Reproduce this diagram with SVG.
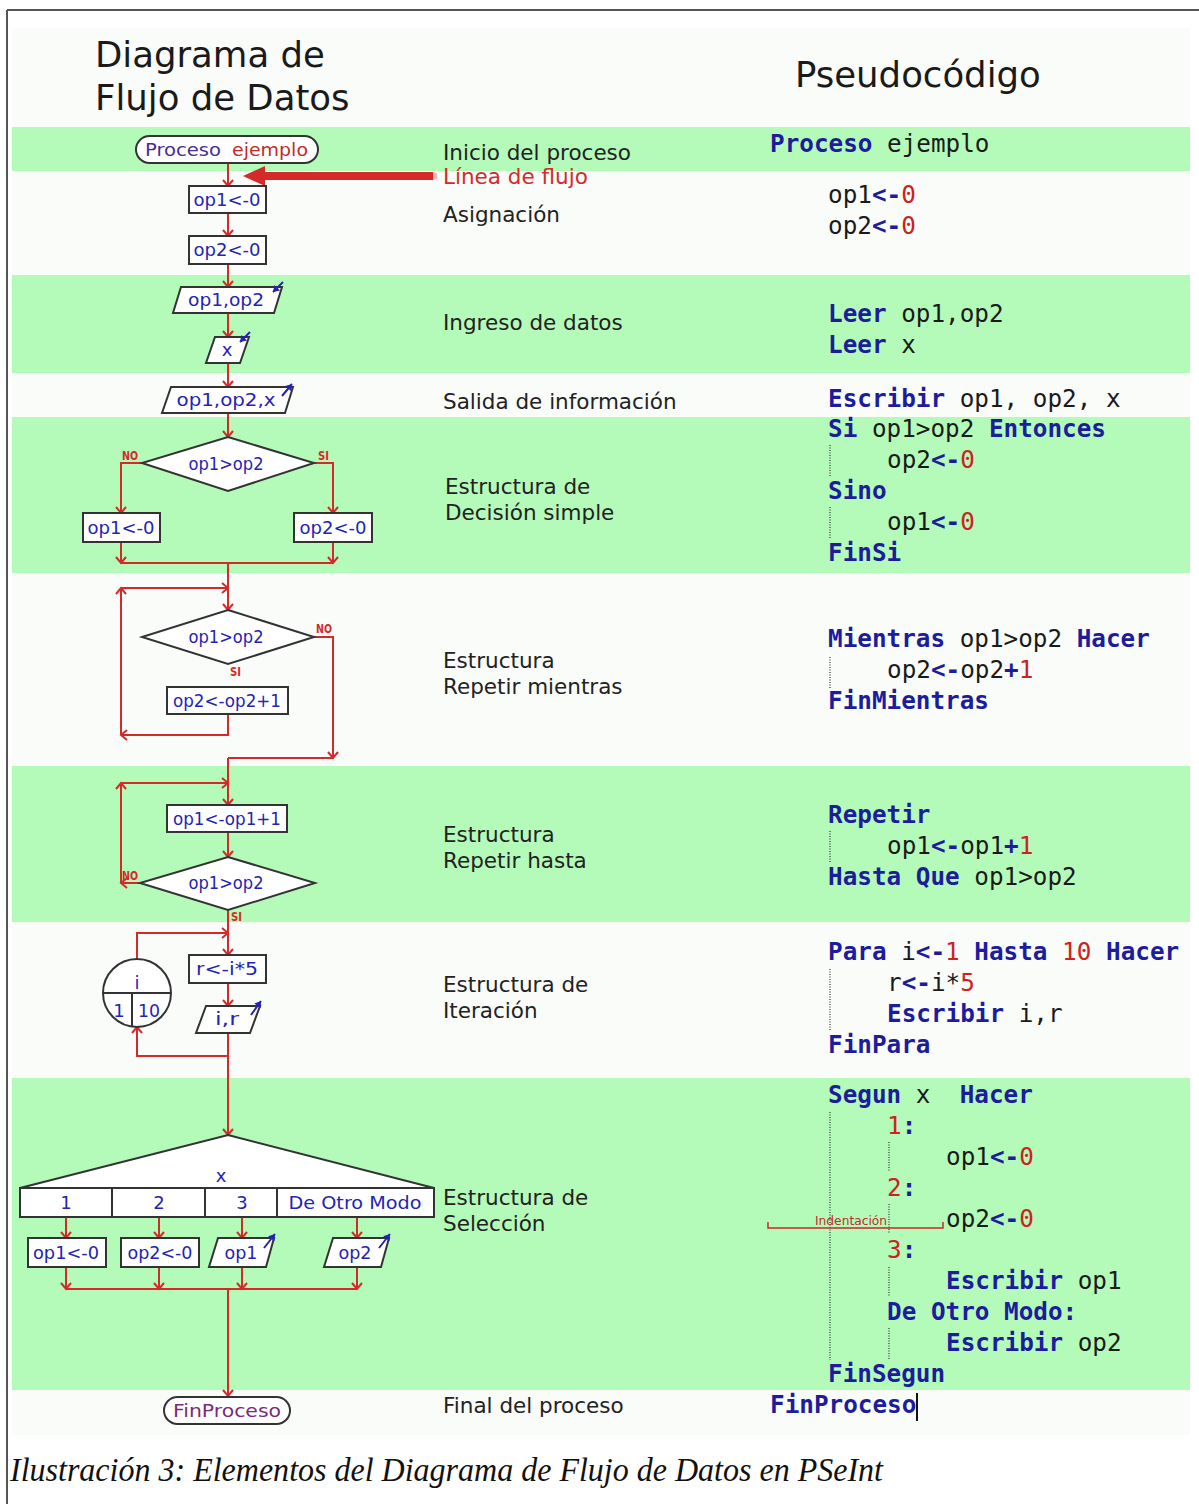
<svg xmlns="http://www.w3.org/2000/svg" width="1199" height="1504" viewBox="0 0 1199 1504">
  <style>
    .band { fill: #b4fab9; }
    .lbl { font-family: "DejaVu Sans", sans-serif; font-size: 21.5px; fill: #222; }
    .hdr { font-family: "DejaVu Sans", sans-serif; font-size: 35.5px; fill: #1a1a1a; }
    .node { fill: #fff; stroke: #333; stroke-width: 2; }
    .ft { font-family: "DejaVu Sans", sans-serif; font-size: 18px; fill: #2424b4; text-anchor: middle; }
    .tag { font-family: "DejaVu Sans Condensed", "DejaVu Sans", sans-serif; font-size: 12px; font-weight: bold; fill: #d42a2a; }
    .con { fill: none; stroke: #d42a2a; stroke-width: 2; }
    .arr { marker-end: url(#ah); }
    .io { fill: none; stroke: #2424b4; stroke-width: 2; marker-end: url(#bh); }
    .code { font-family: "DejaVu Sans Mono", monospace; font-size: 24.3px; fill: #1a1a1a; white-space: pre; }
    .kw { font-weight: bold; fill: #1c1c9c; }
    .num { fill: #cc2222; }
    .guide { stroke: #333; stroke-width: 1.2; stroke-dasharray: 1 1.5; fill: none; }
  </style>
  <defs>
    <marker id="ah" markerUnits="userSpaceOnUse" orient="auto" overflow="visible" markerWidth="12" markerHeight="12">
      <path d="M-6,-5 L0,0 L-6,5" fill="none" stroke="#d42a2a" stroke-width="2"/>
    </marker>
    <marker id="bh" markerUnits="userSpaceOnUse" orient="auto" overflow="visible" markerWidth="10" markerHeight="10">
      <path d="M-6,-4 L0,0 L-6,4 Z" fill="#2424b4"/>
    </marker>
  </defs>

  <!-- page frame -->
  <rect x="0" y="0" width="1199" height="1504" fill="#fff"/>
  <path d="M7,10 H1199 M7,10 V1504" fill="none" stroke="#555" stroke-width="2"/>

  <!-- table background and green rows -->
  <rect x="12" y="28" width="1178" height="1407" fill="#fafcfa"/>
  <rect class="band" x="12" y="127" width="1178" height="44"/>
  <rect class="band" x="12" y="275" width="1178" height="98"/>
  <rect class="band" x="12" y="417" width="1178" height="156"/>
  <rect class="band" x="12" y="766" width="1178" height="156"/>
  <rect class="band" x="12" y="1078" width="1178" height="312"/>

  <!-- column headings -->
  <text class="hdr" x="95" y="67">Diagrama de</text>
  <text class="hdr" x="95" y="110">Flujo de Datos</text>
  <text class="hdr" x="795" y="87">Pseudocódigo</text>

  <!-- connectors -->
  <g id="connectors">
    <path class="con arr" d="M228,163 V186"/>
    <path class="con arr" d="M228,213 V236"/>
    <path class="con arr" d="M228,264 V287"/>
    <path class="con arr" d="M228,313 V337"/>
    <path class="con arr" d="M228,363 V387"/>
    <path class="con arr" d="M228,413 V437"/>
    <!-- if / else -->
    <path class="con arr" d="M142,463 H121 V513"/>
    <path class="con arr" d="M314,463 H333 V513"/>
    <path class="con arr" d="M121,542 V563"/>
    <path class="con arr" d="M333,542 V563"/>
    <path class="con" d="M121,563 H333"/>
    <path class="con arr" d="M228,563 V610"/>
    <!-- while loop -->
    <path class="con arr" d="M228,714 V735 H121"/>
    <path class="con arr" d="M121,735 V588"/>
    <path class="con arr" d="M121,588 H228"/>
    <path class="con arr" d="M314,637 H333 V758"/>
    <path class="con" d="M333,758 H228"/>
    <path class="con arr" d="M228,758 V805"/>
    <!-- repeat loop -->
    <path class="con arr" d="M121,783 H228"/>
    <path class="con arr" d="M228,832 V857"/>
    <path class="con arr" d="M140,883 H121"/>
    <path class="con arr" d="M121,883 V783"/>
    <!-- for loop -->
    <path class="con arr" d="M228,910 V955"/>
    <path class="con arr" d="M137,959 V933 H228"/>
    <path class="con arr" d="M228,983 V1006"/>
    <path class="con arr" d="M228,1056 H137 V1027"/>
    <path class="con arr" d="M228,1033 V1135"/>
    <!-- switch -->
    <path class="con arr" d="M66,1217 V1238"/>
    <path class="con arr" d="M159,1217 V1238"/>
    <path class="con arr" d="M242,1217 V1238"/>
    <path class="con arr" d="M357,1217 V1238"/>
    <path class="con arr" d="M66,1267 V1289"/>
    <path class="con arr" d="M159,1267 V1289"/>
    <path class="con arr" d="M242,1267 V1289"/>
    <path class="con arr" d="M357,1267 V1289"/>
    <path class="con" d="M66,1289 H357"/>
    <path class="con arr" d="M228,1289 V1396"/>
    <!-- flow line callout -->
    <rect x="262" y="172" width="171" height="8" fill="#d42a2a"/>
    <path d="M243,176 L265,166 L265,186 Z" fill="#d42a2a"/>
    <path d="M434,172 V180 M436,173 V179" stroke="#e07070" stroke-width="1"/>
  </g>

  <!-- flowchart nodes -->
  <g id="n-start">
    <rect class="node" x="136" y="136" width="182" height="27" rx="13.5"/>
    <text x="183" y="156" class="ft" style="fill:#4a2c96" textLength="76" lengthAdjust="spacingAndGlyphs">Proceso</text>
    <text x="270" y="156" class="ft" style="fill:#c42a2a" textLength="76" lengthAdjust="spacingAndGlyphs">ejemplo</text>
  </g>
  <g id="n-asig1">
    <rect class="node" x="189" y="186" width="77" height="27"/>
    <text class="ft" x="227" y="206" textLength="67" lengthAdjust="spacingAndGlyphs">op1&lt;-0</text>
  </g>
  <g id="n-asig2">
    <rect class="node" x="189" y="236" width="77" height="28"/>
    <text class="ft" x="227" y="256" textLength="67" lengthAdjust="spacingAndGlyphs">op2&lt;-0</text>
  </g>
  <g id="n-leer1">
    <polygon class="node" points="181,287 282,287 274,313 173,313"/>
    <text class="ft" x="226" y="306" textLength="76" lengthAdjust="spacingAndGlyphs">op1,op2</text>
    <path class="io" d="M283,282 L273,292"/>
  </g>
  <g id="n-leer2">
    <polygon class="node" points="215,337 249,337 240,363 206,363"/>
    <text class="ft" x="227" y="356">x</text>
    <path class="io" d="M250,332 L240,342"/>
  </g>
  <g id="n-escribir">
    <polygon class="node" points="171,387 293,387 285,413 162,413"/>
    <text class="ft" x="226" y="406" textLength="99" lengthAdjust="spacingAndGlyphs">op1,op2,x</text>
    <path class="io" d="M282,396 L292,384"/>
  </g>
  <g id="n-si">
    <polygon class="node" points="228,437 314,463 228,491 142,463"/>
    <text class="ft" x="226" y="470" textLength="75" lengthAdjust="spacingAndGlyphs">op1&gt;op2</text>
    <text class="tag" x="122" y="460" textLength="16" lengthAdjust="spacingAndGlyphs">NO</text>
    <text class="tag" x="318" y="460" textLength="11" lengthAdjust="spacingAndGlyphs">SI</text>
  </g>
  <g id="n-sino">
    <rect class="node" x="83" y="513" width="77" height="29"/>
    <text class="ft" x="121" y="534" textLength="67" lengthAdjust="spacingAndGlyphs">op1&lt;-0</text>
  </g>
  <g id="n-entonces">
    <rect class="node" x="294" y="513" width="78" height="29"/>
    <text class="ft" x="333" y="534" textLength="67" lengthAdjust="spacingAndGlyphs">op2&lt;-0</text>
  </g>
  <g id="n-mientras">
    <polygon class="node" points="228,610 314,637 228,664 142,637"/>
    <text class="ft" x="226" y="643" textLength="75" lengthAdjust="spacingAndGlyphs">op1&gt;op2</text>
    <text class="tag" x="316" y="633" textLength="16" lengthAdjust="spacingAndGlyphs">NO</text>
    <text class="tag" x="230" y="676" textLength="11" lengthAdjust="spacingAndGlyphs">SI</text>
  </g>
  <g id="n-mientras-cuerpo">
    <rect class="node" x="167" y="687" width="121" height="27"/>
    <text class="ft" x="227" y="707" textLength="108" lengthAdjust="spacingAndGlyphs">op2&lt;-op2+1</text>
  </g>
  <g id="n-repetir-cuerpo">
    <rect class="node" x="167" y="805" width="120" height="27"/>
    <text class="ft" x="227" y="825" textLength="108" lengthAdjust="spacingAndGlyphs">op1&lt;-op1+1</text>
  </g>
  <g id="n-hasta">
    <polygon class="node" points="228,857 315,883 228,910 140,883"/>
    <text class="ft" x="226" y="889" textLength="75" lengthAdjust="spacingAndGlyphs">op1&gt;op2</text>
    <text class="tag" x="122" y="880" textLength="16" lengthAdjust="spacingAndGlyphs">NO</text>
    <text class="tag" x="231" y="921" textLength="11" lengthAdjust="spacingAndGlyphs">SI</text>
  </g>
  <g id="n-para">
    <circle class="node" cx="137" cy="993" r="34"/>
    <path d="M103,993 H171 M132,993 V1026" stroke="#333" stroke-width="2" fill="none"/>
    <text class="ft" x="137" y="989">i</text>
    <text class="ft" x="119" y="1017">1</text>
    <text class="ft" x="149" y="1017" textLength="22" lengthAdjust="spacingAndGlyphs">10</text>
  </g>
  <g id="n-para-asig">
    <rect class="node" x="189" y="955" width="77" height="28"/>
    <text class="ft" x="227" y="975" textLength="62" lengthAdjust="spacingAndGlyphs">r&lt;-i*5</text>
  </g>
  <g id="n-para-escribir">
    <polygon class="node" points="206,1006 260,1006 250,1033 196,1033"/>
    <text class="ft" x="227" y="1025" textLength="24" lengthAdjust="spacingAndGlyphs">i,r</text>
    <path class="io" d="M251,1015 L261,1001"/>
  </g>
  <g id="n-segun">
    <polygon class="node" points="228,1135 434,1188 20,1188"/>
    <text class="ft" x="221" y="1182">x</text>
    <rect class="node" x="20" y="1188" width="414" height="29"/>
    <path d="M112,1188 V1217 M205,1188 V1217 M277,1188 V1217" stroke="#333" stroke-width="2"/>
    <text class="ft" x="66" y="1209">1</text>
    <text class="ft" x="159" y="1209">2</text>
    <text class="ft" x="242" y="1209">3</text>
    <text class="ft" x="355" y="1209" textLength="133" lengthAdjust="spacingAndGlyphs">De Otro Modo</text>
  </g>
  <g id="n-caso1">
    <rect class="node" x="28" y="1238" width="78" height="29"/>
    <text class="ft" x="66" y="1259" textLength="66" lengthAdjust="spacingAndGlyphs">op1&lt;-0</text>
  </g>
  <g id="n-caso2">
    <rect class="node" x="121" y="1238" width="78" height="29"/>
    <text class="ft" x="160" y="1259" textLength="65" lengthAdjust="spacingAndGlyphs">op2&lt;-0</text>
  </g>
  <g id="n-caso3">
    <polygon class="node" points="218,1238 274,1238 266,1267 209,1267"/>
    <text class="ft" x="241" y="1259" textLength="33" lengthAdjust="spacingAndGlyphs">op1</text>
    <path class="io" d="M264,1248 L275,1234"/>
  </g>
  <g id="n-otro">
    <polygon class="node" points="333,1238 389,1238 381,1267 324,1267"/>
    <text class="ft" x="355" y="1259" textLength="33" lengthAdjust="spacingAndGlyphs">op2</text>
    <path class="io" d="M379,1248 L390,1234"/>
  </g>
  <g id="n-fin">
    <rect class="node" x="164" y="1397" width="126" height="27" rx="13.5"/>
    <text class="ft" x="227" y="1417" style="fill:#7a2a7a" textLength="108" lengthAdjust="spacingAndGlyphs">FinProceso</text>
  </g>

  <!-- row descriptions -->
  <g id="descriptions">
    <text class="lbl" x="443" y="160">Inicio del proceso</text>
    <text class="lbl" x="443" y="184" style="fill:#d42a2a">Línea de flujo</text>
    <text class="lbl" x="443" y="222">Asignación</text>
    <text class="lbl" x="443" y="330">Ingreso de datos</text>
    <text class="lbl" x="443" y="409">Salida de información</text>
    <text class="lbl" x="445" y="494">Estructura de</text>
    <text class="lbl" x="445" y="520">Decisión simple</text>
    <text class="lbl" x="443" y="668">Estructura</text>
    <text class="lbl" x="443" y="694">Repetir mientras</text>
    <text class="lbl" x="443" y="842">Estructura</text>
    <text class="lbl" x="443" y="868">Repetir hasta</text>
    <text class="lbl" x="443" y="992">Estructura de</text>
    <text class="lbl" x="443" y="1018">Iteración</text>
    <text class="lbl" x="443" y="1205">Estructura de</text>
    <text class="lbl" x="443" y="1231">Selección</text>
    <text class="lbl" x="443" y="1413">Final del proceso</text>
  </g>

  <!-- pseudocode -->
  <g id="pseudocode">
    <text class="code" x="770" y="152"><tspan class="kw">Proceso</tspan> ejemplo</text>
    <text class="code" x="828" y="203">op1<tspan class="kw">&lt;-</tspan><tspan class="num">0</tspan></text>
    <text class="code" x="828" y="234">op2<tspan class="kw">&lt;-</tspan><tspan class="num">0</tspan></text>
    <text class="code" x="828" y="322"><tspan class="kw">Leer</tspan> op1,op2</text>
    <text class="code" x="828" y="353"><tspan class="kw">Leer</tspan> x</text>
    <text class="code" x="828" y="407"><tspan class="kw">Escribir</tspan> op1, op2, x</text>
    <text class="code" x="828" y="437"><tspan class="kw">Si</tspan> op1&gt;op2 <tspan class="kw">Entonces</tspan></text>
    <text class="code" x="887" y="468">op2<tspan class="kw">&lt;-</tspan><tspan class="num">0</tspan></text>
    <text class="code" x="828" y="499"><tspan class="kw">Sino</tspan></text>
    <text class="code" x="887" y="530">op1<tspan class="kw">&lt;-</tspan><tspan class="num">0</tspan></text>
    <text class="code" x="828" y="561"><tspan class="kw">FinSi</tspan></text>
    <text class="code" x="828" y="647"><tspan class="kw">Mientras</tspan> op1&gt;op2 <tspan class="kw">Hacer</tspan></text>
    <text class="code" x="887" y="678">op2<tspan class="kw">&lt;-</tspan>op2<tspan class="kw">+</tspan><tspan class="num">1</tspan></text>
    <text class="code" x="828" y="709"><tspan class="kw">FinMientras</tspan></text>
    <text class="code" x="828" y="823"><tspan class="kw">Repetir</tspan></text>
    <text class="code" x="887" y="854">op1<tspan class="kw">&lt;-</tspan>op1<tspan class="kw">+</tspan><tspan class="num">1</tspan></text>
    <text class="code" x="828" y="885"><tspan class="kw">Hasta Que</tspan> op1&gt;op2</text>
    <text class="code" x="828" y="960"><tspan class="kw">Para</tspan> i<tspan class="kw">&lt;-</tspan><tspan class="num">1</tspan> <tspan class="kw">Hasta</tspan> <tspan class="num">10</tspan> <tspan class="kw">Hacer</tspan></text>
    <text class="code" x="887" y="991">r<tspan class="kw">&lt;-</tspan>i*<tspan class="num">5</tspan></text>
    <text class="code" x="887" y="1022"><tspan class="kw">Escribir</tspan> i,r</text>
    <text class="code" x="828" y="1053"><tspan class="kw">FinPara</tspan></text>
    <text class="code" x="828" y="1103"><tspan class="kw">Segun</tspan> x  <tspan class="kw">Hacer</tspan></text>
    <text class="code" x="887" y="1134"><tspan class="num">1</tspan><tspan class="kw">:</tspan></text>
    <text class="code" x="946" y="1165">op1<tspan class="kw">&lt;-</tspan><tspan class="num">0</tspan></text>
    <text class="code" x="887" y="1196"><tspan class="num">2</tspan><tspan class="kw">:</tspan></text>
    <text class="code" x="946" y="1227">op2<tspan class="kw">&lt;-</tspan><tspan class="num">0</tspan></text>
    <text class="code" x="887" y="1258"><tspan class="num">3</tspan><tspan class="kw">:</tspan></text>
    <text class="code" x="946" y="1289"><tspan class="kw">Escribir</tspan> op1</text>
    <text class="code" x="887" y="1320"><tspan class="kw">De Otro Modo:</tspan></text>
    <text class="code" x="946" y="1351"><tspan class="kw">Escribir</tspan> op2</text>
    <text class="code" x="828" y="1382"><tspan class="kw">FinSegun</tspan></text>
    <text class="code" x="770" y="1413"><tspan class="kw">FinProceso</tspan></text>
    <path d="M917,1393 V1421" stroke="#111" stroke-width="2"/>

    <!-- indentation guides -->
    <path class="guide" d="M830,445 V477 M830,507 V539 M830,657 V688 M830,831 V862 M830,969 V1031 M830,1112 V1360 M889,1142 V1172 M889,1204 V1233 M889,1267 V1297 M889,1328 V1360"/>
    <path d="M768,1222 V1228 H943 V1222" fill="none" stroke="#c42a2a" stroke-width="1.5"/>
    <text x="815" y="1225" style="font-family:'DejaVu Sans',sans-serif;font-size:12px;fill:#c42a2a" textLength="72" lengthAdjust="spacingAndGlyphs">Indentación</text>
  </g>

  <!-- caption -->
  <text x="10" y="1481" style="font-family:'Liberation Serif',serif;font-style:italic;font-size:33px;fill:#111" textLength="873" lengthAdjust="spacingAndGlyphs">Ilustración 3: Elementos del Diagrama de Flujo de Datos en PSeInt</text>
</svg>
